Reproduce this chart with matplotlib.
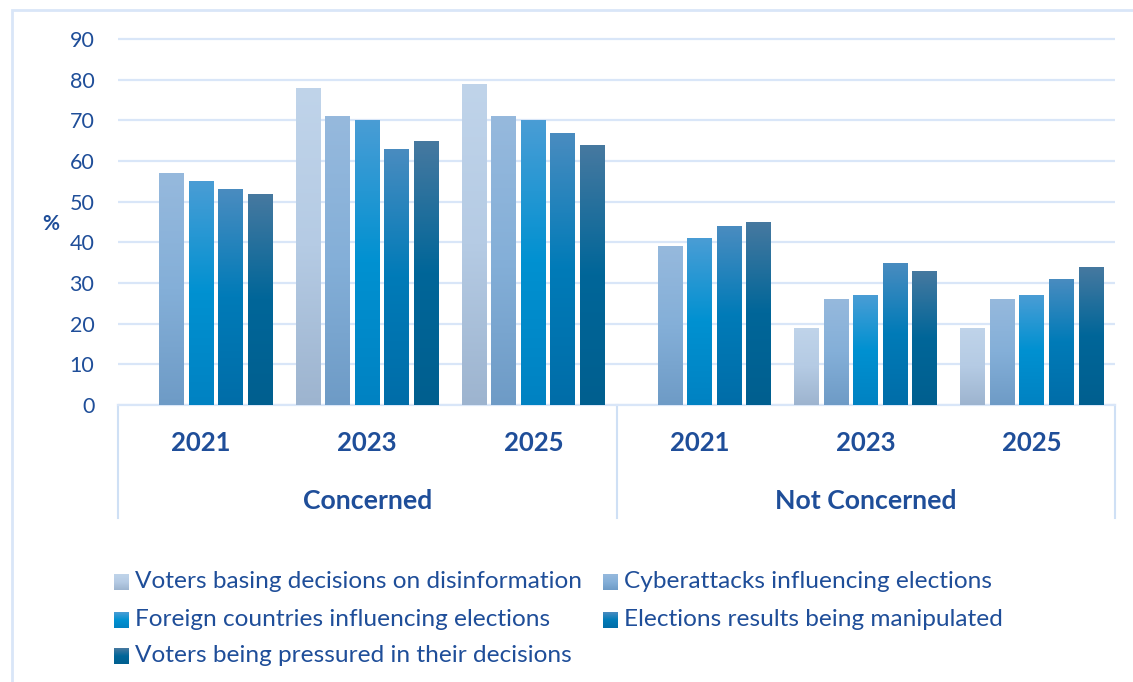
import numpy as np
import matplotlib
matplotlib.use("Agg")
import matplotlib.pyplot as plt
from matplotlib.colors import LinearSegmentedColormap
from matplotlib.patches import Rectangle
from matplotlib.transforms import blended_transform_factory

plt.rcParams["font.family"] = ["Lato", "DejaVu Sans"]

groups = ["Concerned", "Not Concerned"]
years = ["2021", "2023", "2025"]
series = [
    "Voters basing decisions on disinformation",
    "Cyberattacks influencing elections",
    "Foreign countries influencing elections",
    "Elections results being manipulated",
    "Voters being pressured in their decisions",
]
# one list per series, order: Concerned 2021/2023/2025, Not Concerned 2021/2023/2025
disinformation = [np.nan, 78, 79, np.nan, 19, 19]
cyberattacks = [57, 71, 71, 39, 26, 26]
foreign = [55, 70, 70, 41, 27, 27]
manipulated = [53, 63, 67, 44, 35, 31]
pressured = [52, 65, 64, 45, 33, 34]
values = [disinformation, cyberattacks, foreign, manipulated, pressured]

# (bottom, middle, top) gradient stops per series
GRADIENTS = [
    ("#9db4cf", "#b5cbe4", "#c0d4ea"),
    ("#6e9bc6", "#84afd8", "#96b9dd"),
    ("#0082c2", "#0091d1", "#4a9dd5"),
    ("#006da8", "#007bb8", "#4a8cc0"),
    ("#005f8f", "#006699", "#4779a0"),
]
TEXT = "#1f4e99"
GRID = "#d9e6f8"

cmaps = [LinearSegmentedColormap.from_list(f"s{i}", g) for i, g in enumerate(GRADIENTS)]
grad = np.linspace(0, 1, 256).reshape(-1, 1)

W, H = 1133, 682
PX = 4.067  # pixels per percentage point
fig = plt.figure(figsize=(W / 100, H / 100), dpi=100)
ax = fig.add_axes([118 / W, (H - 405) / H, 997 / W, 92 * PX / H])

x = np.arange(len(groups) * len(years))
width = 0.15
step = 0.1777
for i, vals in enumerate(values):
    bars = ax.bar(x + (i - 2) * step, vals, width=width, color="none", edgecolor="none", zorder=3)
    for b in bars:
        h = b.get_height()
        if not np.isfinite(h) or h <= 0:
            continue
        x0 = b.get_x()
        im = ax.imshow(grad, cmap=cmaps[i], origin="lower", aspect="auto",
                       extent=[x0, x0 + b.get_width(), 0, h], zorder=3)
        im.set_clip_path(b)

ax.set_xlim(-0.5, len(x) - 0.5)
ax.set_ylim(0, 92)
ax.set_yticks(range(0, 91, 10))
ax.yaxis.grid(True, color=GRID, linewidth=1.6, zorder=0)
ax.set_axisbelow(True)
for s in ["top", "right", "left"]:
    ax.spines[s].set_visible(False)
ax.spines["bottom"].set_color(GRID)
ax.spines["bottom"].set_linewidth(1.6)
ax.tick_params(axis="y", length=0, pad=17, labelsize=15.5, labelcolor=TEXT)
ax.tick_params(axis="x", length=0, pad=19, labelsize=18.5, labelcolor=TEXT)
ax.set_xticks(x)
ax.set_xticklabels(years * len(groups), fontweight="bold")
ax.text(51 / W, (H - 224) / H, "%", transform=fig.transFigure, ha="center", va="center",
        color=TEXT, fontsize=15, fontweight="bold")

# multi-level category axis
trans = blended_transform_factory(ax.transData, ax.transAxes)
sep_len = 113 / (92 * PX)
for xs in [-0.5, 2.5, 5.5]:
    ax.plot([xs, xs], [0, -sep_len], transform=trans, color="#cfe0f5",
            linewidth=1.5, clip_on=False)
for gi, g in enumerate(groups):
    ax.text(gi * 3 + 1, -96 / (92 * PX), g, transform=trans, ha="center", va="center",
            fontsize=19.2, fontweight="bold", color=TEXT)

# outer border
fig.patches.append(Rectangle((12 / W, -0.05), 1.1, (H - 10) / H + 0.05,
                             transform=fig.transFigure, fill=False,
                             edgecolor=GRID, linewidth=2))

# legend, laid out in rows of two
legend_pos = [(114, 582), (603, 582), (114, 620), (603, 620), (114, 656)]
for i, (lx, ly) in enumerate(legend_pos):
    sq = fig.add_axes([lx / W, (H - ly - 8) / H, 15 / W, 16 / H])
    sq.imshow(grad, cmap=cmaps[i], origin="lower", aspect="auto")
    sq.set_axis_off()
    fig.text((lx + 21) / W, (H - ly) / H, series[i], ha="left", va="center",
             fontsize=17.6, color=TEXT)

fig.savefig("out.png", dpi=100)
